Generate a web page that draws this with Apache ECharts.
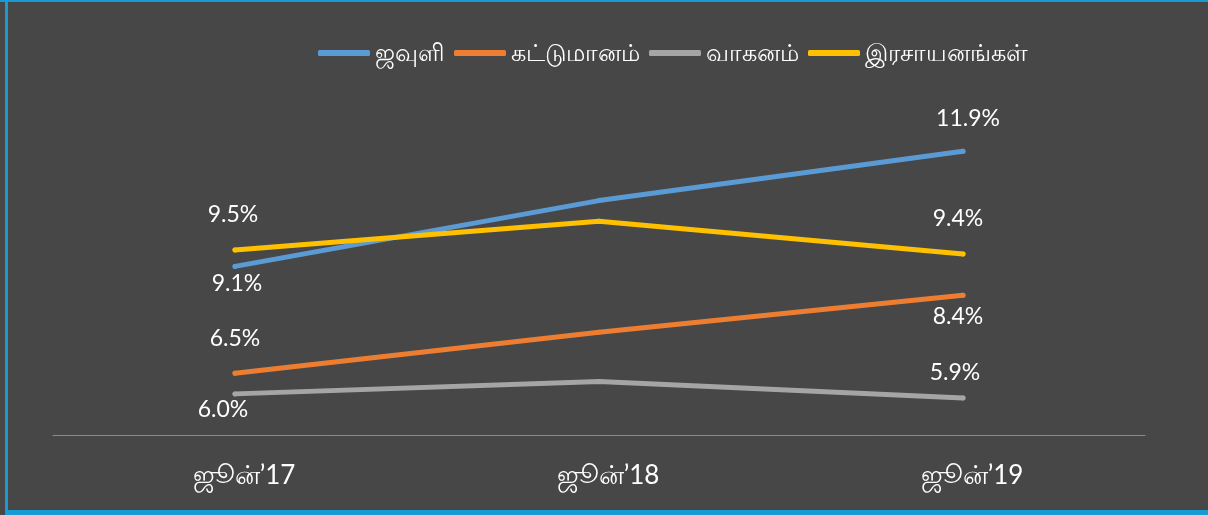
<!DOCTYPE html>
<html>
<head>
<meta charset="utf-8">
<script src="https://cdn.jsdelivr.net/npm/echarts@6/dist/echarts.min.js"></script>
<style>
html,body{margin:0;padding:0;background:#474747;}
#chart{width:1208px;height:515px;}
</style>
</head>
<body>
<div id="chart"></div>
<script>
const categories = ['ஜூன்’17', 'ஜூன்’18', 'ஜூன்’19'];
const seriesNames = ['ஜவுளி', 'கட்டுமானம்', 'வாகனம்', 'இரசாயனங்கள்'];
const textiles = [9.1, 10.7, 11.9];
const construction = [6.5, 7.5, 8.4];
const automobile = [6.0, 6.3, 5.9];
const chemicals = [9.5, 10.2, 9.4];
const seriesValues = [textiles, construction, automobile, chemicals];
const colors = ['#5B9BD5', '#ED7D31', '#A5A5A5', '#FFC000'];
// label offsets (dx, dy) from each point centre; null = no label
const labelOffsets = [
  [[2, 17], null, [5, -33]],
  [[0, -35], null, [-5, 21]],
  [[-12, 16], null, [-8, -25]],
  [[-2, -35], null, [-5, -35]]
];

const chart = echarts.init(document.getElementById('chart'));
const series = seriesValues.map((vals, si) => ({
  name: seriesNames[si],
  type: 'line',
  data: vals.map((v, i) => {
    const off = labelOffsets[si][i];
    return {
      value: v,
      label: off ? {show: true, position: 'inside', offset: off} : {show: false}
    };
  }),
  symbol: 'circle',
  symbolSize: 5,
  showSymbol: true,
  lineStyle: {width: 5, color: colors[si], cap: 'round'},
  itemStyle: {color: colors[si], borderWidth: 0},
  label: {
    color: '#ffffff',
    fontSize: 23,
    fontFamily: 'Lato, sans-serif',
    formatter: p => p.value.toFixed(1) + '%'
  },
  emphasis: {disabled: true},
  z: 3
}));

chart.setOption({
  backgroundColor: '#474747',
  animation: false,
  graphic: [
    {type: 'rect', shape: {x: 0, y: 0, width: 1208, height: 2}, style: {fill: '#189AD3'}},
    {type: 'rect', shape: {x: 5, y: 0, width: 3, height: 515}, style: {fill: '#189AD3'}},
    {type: 'rect', shape: {x: 5, y: 510, width: 1203, height: 5}, style: {fill: '#189AD3'}}
  ],
  legend: {
    left: 313,
    top: 36,
    itemWidth: 52,
    itemHeight: 6,
    itemGap: 9,
    icon: 'roundRect',
    textStyle: {color: '#ffffff', fontSize: 24, fontFamily: 'Lato, sans-serif'},
    data: seriesNames
  },
  grid: {left: 53, right: 63, top: 106, bottom: 80},
  xAxis: {
    type: 'category',
    data: categories,
    boundaryGap: true,
    axisLine: {lineStyle: {color: '#8a8a8a', width: 1}},
    axisTick: {show: false},
    axisLabel: {color: '#ffffff', fontSize: 26, fontFamily: 'Lato, sans-serif', margin: 28, padding: [0, 0, 0, 18]}
  },
  yAxis: {
    type: 'value',
    min: 5,
    max: 13,
    show: false,
    splitLine: {show: false}
  },
  series: series
});
</script>
</body>
</html>
